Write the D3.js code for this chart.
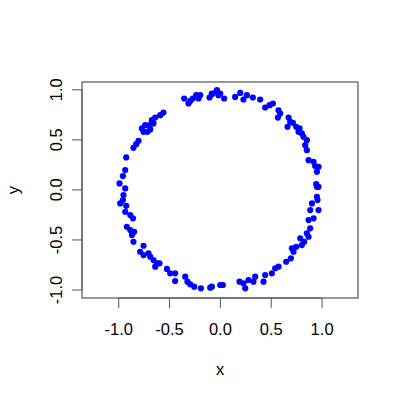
<!DOCTYPE html>
<html><head><meta charset="utf-8">
<script src="https://cdn.jsdelivr.net/npm/d3@7"></script>
<style>html,body{margin:0;padding:0;background:#fff;}svg{display:block;}</style>
</head><body>
<script>
const xVals = [
 -0.351,-0.309,-0.292,-0.266,-0.233,-0.210,-0.194,-0.102,-0.079,-0.036,-0.014,
 -0.555,-0.587,-0.636,-0.669,-0.653,-0.692,-0.735,-0.767,-0.751,-0.712,-0.685,
 -0.800,-0.823,-0.850,-0.921,-0.931,-0.954,-0.987,-0.931,
 -0.948,-0.954,-0.980,-0.921,-0.931,-0.882,-0.855,-0.915,-0.882,-0.843,-0.865,-0.850,
 -0.751,-0.784,-0.751,-0.702,-0.685,-0.653,-0.619,-0.636,-0.594,-0.521,-0.489,-0.440,
 -0.440,-0.341,-0.319,-0.292,-0.253,-0.187,-0.095,0.003,
 0.954,0.954,0.960,0.905,0.888,0.970,0.921,0.872,0.888,0.855,0.872,0.790,0.829,0.806,
 0.750,0.708,0.724,0.698,0.652,0.576,0.544,0.511,0.445,0.429,0.347,0.330,0.281,0.232,
 0.249,0.193,0.029,-0.079,
 -0.079,-0.029,0.003,0.042,0.150,0.200,0.232,0.265,0.324,0.396,0.445,0.488,0.521,
 0.576,0.593,0.570,0.675,0.691,0.665,0.718,0.750,0.783,0.773,0.806,0.822,0.855,0.839,
 0.855,0.872,0.921,0.937,0.970,0.954,0.947,0.970
];
const yVals = [
 0.908,0.858,0.884,0.908,0.941,0.908,0.941,0.918,0.951,0.974,0.941,
 0.768,0.742,0.718,0.692,0.659,0.642,0.642,0.609,0.575,0.575,0.599,
 0.485,0.452,0.415,0.319,0.193,0.133,0.060,0.010,
 -0.057,-0.107,-0.140,-0.164,-0.224,-0.256,-0.289,-0.373,-0.406,-0.423,-0.456,-0.523,
 -0.563,-0.623,-0.656,-0.639,-0.673,-0.706,-0.739,-0.772,-0.739,-0.795,-0.838,-0.838,
 -0.915,-0.872,-0.922,-0.948,-0.972,-0.988,-0.982,-0.955,
 0.026,-0.074,-0.107,-0.140,-0.207,-0.207,-0.289,-0.306,-0.389,-0.439,-0.473,-0.489,-0.523,-0.556,
 -0.573,-0.589,-0.623,-0.689,-0.723,-0.772,-0.788,-0.838,-0.855,-0.922,-0.872,-0.922,-0.905,-0.938,
 -0.988,-0.922,-0.955,-0.972,
 0.958,0.991,0.958,0.908,0.924,0.964,0.898,0.941,0.918,0.898,0.818,0.841,0.858,
 0.791,0.758,0.718,0.718,0.675,0.625,0.665,0.625,0.609,0.575,0.559,0.525,0.492,0.442,
 0.392,0.292,0.275,0.233,0.226,0.176,0.053,0.026
];
const xTicks = [-1.0, -0.5, 0.0, 0.5, 1.0];
const yTicks = [-1.0, -0.5, 0.0, 0.5, 1.0];
const xLabel = "x", yLabel = "y";

const W = 400, H = 400;
const box = {l: 82, r: 358, t: 82, b: 298};
const svg = d3.select("body").append("svg").attr("width", W).attr("height", H);
const x = d3.scaleLinear().domain([-1.356, 1.358]).range([box.l, box.r]);
const y = d3.scaleLinear().domain([-1.085, 1.073]).range([box.b, box.t]);
const font = "'Liberation Sans', Arial, Helvetica, sans-serif";
const fs = "16.5px";

svg.append("g").selectAll("circle").data(xVals.map((v, i) => [v, yVals[i]]))
  .enter().append("circle")
  .attr("cx", d => x(d[0])).attr("cy", d => y(d[1])).attr("r", 3.1)
  .attr("fill", "#0000ff");

svg.append("rect").attr("x", box.l).attr("y", box.t)
  .attr("width", box.r - box.l).attr("height", box.b - box.t)
  .attr("fill", "none").attr("stroke", "#555").attr("stroke-width", 1.2);

const fmt = d3.format(".1f");
const xAxis = d3.axisBottom(x).tickValues(xTicks).tickSize(10).tickPadding(6)
  .tickFormat(d => fmt(d).replace("−", "-"));
const gx = svg.append("g").attr("transform", `translate(0,${box.b})`).call(xAxis);
gx.select(".domain").attr("d", `M${x(-1)},0H${x(1)}`).attr("stroke", "#555");
gx.selectAll(".tick line").attr("stroke", "#555");
gx.selectAll("text").attr("font-family", font).attr("font-size", fs).attr("fill", "#000")
  .attr("dy", null).attr("y", 37);

const yAxis = d3.axisLeft(y).tickValues(yTicks).tickSize(10)
  .tickFormat(d => fmt(d).replace("−", "-"));
const gy = svg.append("g").attr("transform", `translate(${box.l},0)`).call(yAxis);
gy.select(".domain").attr("d", `M0,${y(-1)}V${y(1)}`).attr("stroke", "#555");
gy.selectAll(".tick line").attr("stroke", "#555");
gy.selectAll("text").attr("font-family", font).attr("font-size", fs).attr("fill", "#000")
  .attr("x", null).attr("dy", null).attr("text-anchor", "middle")
  .attr("transform", "translate(-20,0) rotate(-90)");

svg.append("text").attr("x", (box.l + box.r) / 2).attr("y", 375)
  .attr("text-anchor", "middle").attr("font-family", font).attr("font-size", fs).text(xLabel);
svg.append("text").attr("transform", `translate(19,${(box.t + box.b) / 2}) rotate(-90)`)
  .attr("text-anchor", "middle").attr("font-family", font).attr("font-size", fs).text(yLabel);
</script>
</body></html>
